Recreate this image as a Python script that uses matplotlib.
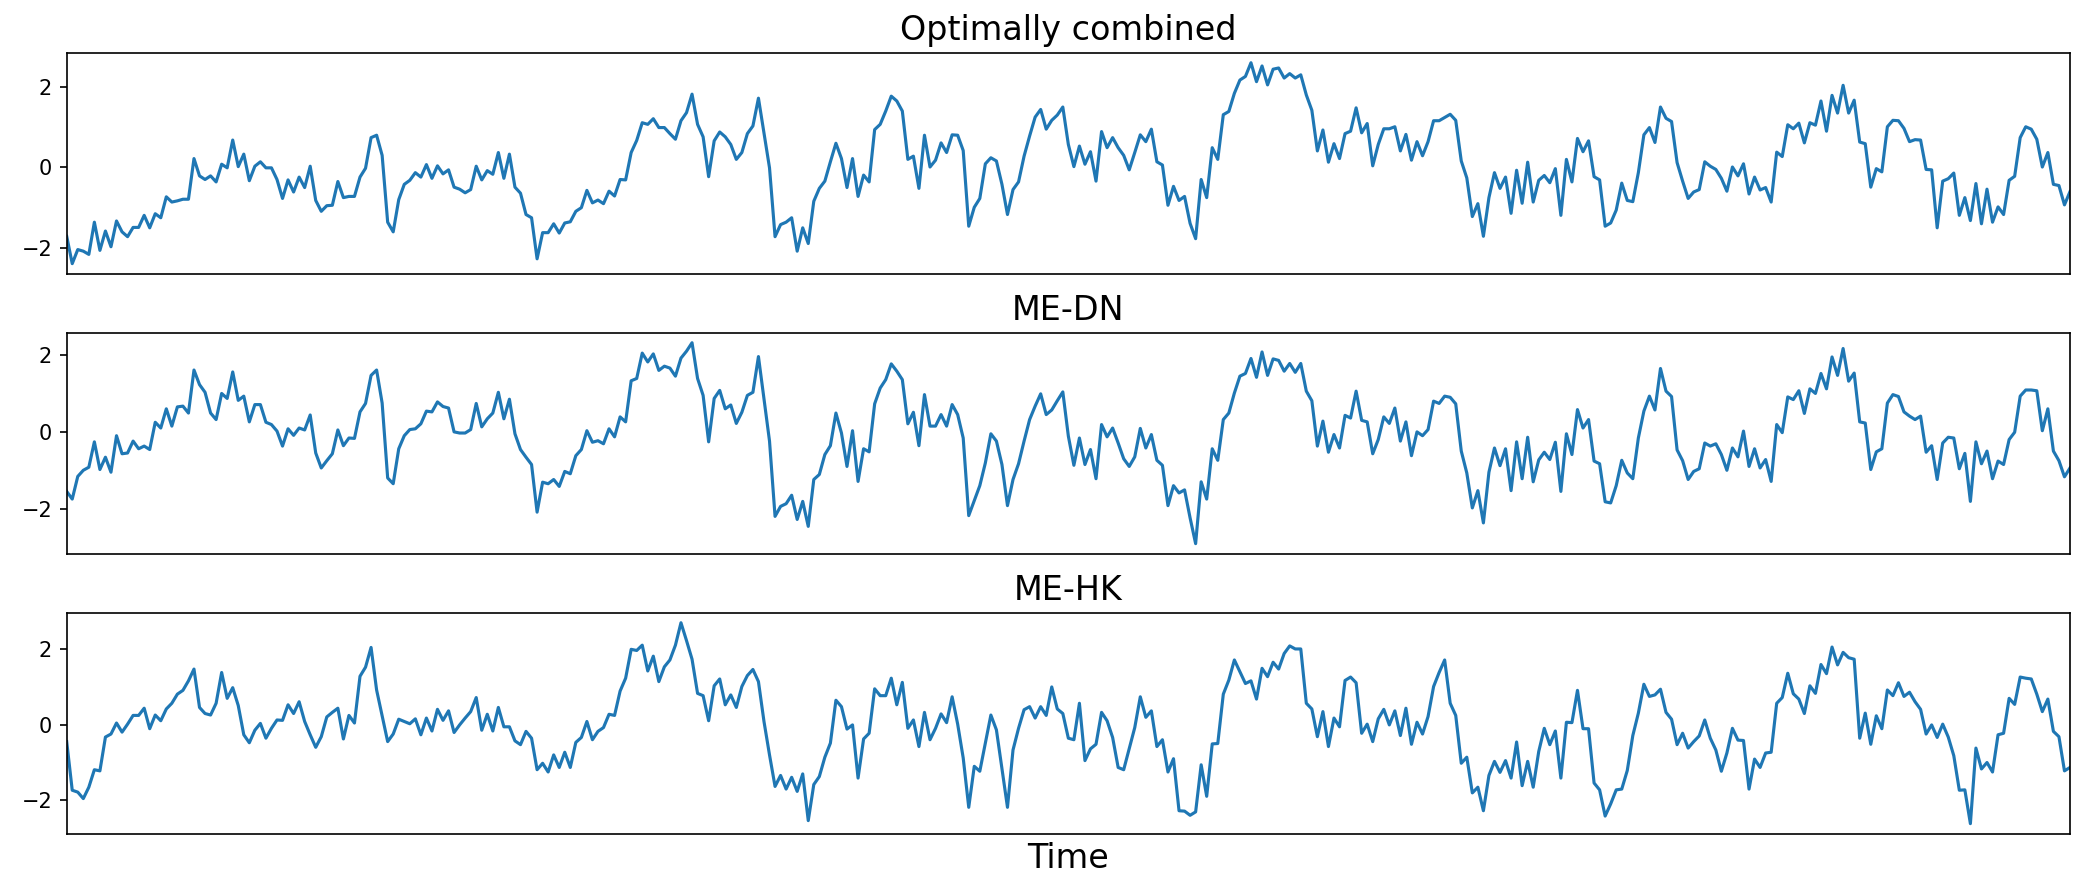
import numpy as np
import matplotlib
matplotlib.use("Agg")
import matplotlib.pyplot as plt

titles = ["Optimally combined", "ME-DN", "ME-HK"]
xlabel = "Time"

combined = [
-1.72,-2.40,-2.05,-2.09,-2.17,-1.37,-2.07,-1.59,-1.98,-1.34,-1.61,-1.73,-1.50,-1.50,-1.20,-1.51,-1.16,-1.26,-0.74,-0.87,
-0.84,-0.80,-0.80,0.21,-0.22,-0.31,-0.22,-0.37,0.07,-0.02,0.67,0.01,0.32,-0.34,0.02,0.13,-0.02,-0.02,-0.31,-0.78,
-0.32,-0.62,-0.25,-0.51,0.02,-0.83,-1.10,-0.96,-0.95,-0.36,-0.76,-0.73,-0.73,-0.25,-0.03,0.73,0.79,0.29,-1.37,-1.61,
-0.81,-0.43,-0.33,-0.14,-0.25,0.06,-0.28,0.03,-0.17,-0.07,-0.50,-0.55,-0.64,-0.56,0.02,-0.32,-0.09,-0.18,0.36,-0.28,
0.32,-0.50,-0.65,-1.18,-1.26,-2.28,-1.63,-1.63,-1.41,-1.64,-1.39,-1.36,-1.10,-1.01,-0.58,-0.89,-0.82,-0.91,-0.60,-0.72,
-0.31,-0.32,0.36,0.66,1.10,1.06,1.20,0.98,0.98,0.83,0.69,1.15,1.35,1.81,1.06,0.75,-0.24,0.65,0.87,0.75,
0.56,0.19,0.36,0.83,1.02,1.71,0.85,-0.02,-1.73,-1.43,-1.37,-1.26,-2.09,-1.51,-1.90,-0.85,-0.53,-0.35,0.13,0.59,
0.21,-0.51,0.21,-0.73,-0.20,-0.37,0.93,1.06,1.39,1.76,1.64,1.39,0.19,0.27,-0.53,0.79,0.00,0.17,0.60,0.36,
0.80,0.79,0.41,-1.47,-1.00,-0.78,0.08,0.23,0.15,-0.43,-1.18,-0.56,-0.37,0.27,0.77,1.24,1.43,0.94,1.16,1.29,
1.49,0.56,0.01,0.52,0.07,0.38,-0.35,0.88,0.48,0.73,0.48,0.29,-0.07,0.36,0.80,0.63,0.94,0.13,0.05,-0.95,
-0.48,-0.83,-0.73,-1.40,-1.78,-0.31,-0.76,0.48,0.19,1.30,1.38,1.83,2.16,2.25,2.59,2.12,2.51,2.04,2.43,2.46,
2.21,2.32,2.21,2.29,1.79,1.41,0.40,0.92,0.12,0.58,0.21,0.83,0.89,1.47,0.85,1.08,0.03,0.56,0.95,0.95,
1.00,0.40,0.81,0.17,0.63,0.28,0.63,1.15,1.15,1.23,1.31,1.16,0.15,-0.27,-1.23,-0.91,-1.72,-0.76,-0.14,-0.53,
-0.25,-1.15,-0.08,-0.90,0.12,-0.87,-0.33,-0.21,-0.39,-0.04,-1.20,0.19,-0.37,0.71,0.38,0.65,-0.24,-0.32,-1.47,-1.39,
-1.07,-0.40,-0.83,-0.86,-0.14,0.80,0.98,0.61,1.49,1.21,1.13,0.11,-0.35,-0.78,-0.62,-0.56,0.13,0.02,-0.06,-0.28,
-0.60,0.00,-0.22,0.08,-0.67,-0.25,-0.57,-0.51,-0.87,0.37,0.26,1.05,0.95,1.09,0.60,1.10,1.04,1.64,0.89,1.78,
1.34,2.03,1.34,1.66,0.62,0.58,-0.50,-0.04,-0.12,1.00,1.16,1.15,0.96,0.63,0.68,0.67,-0.06,-0.07,-1.51,-0.35,
-0.29,-0.15,-1.20,-0.76,-1.33,-0.41,-1.41,-0.55,-1.37,-0.99,-1.18,-0.33,-0.23,0.73,1.00,0.94,0.69,0.00,0.36,-0.43,
-0.46,-0.94,-0.61]

me_dn = [
-1.54,-1.74,-1.15,-0.99,-0.91,-0.25,-0.97,-0.65,-1.04,-0.09,-0.56,-0.54,-0.23,-0.43,-0.36,-0.45,0.26,0.11,0.61,0.16,
0.66,0.68,0.50,1.62,1.24,1.04,0.50,0.33,1.01,0.88,1.57,0.83,0.94,0.27,0.72,0.72,0.26,0.20,0.03,-0.36,
0.09,-0.08,0.11,0.06,0.45,-0.54,-0.93,-0.74,-0.56,0.06,-0.35,-0.15,-0.16,0.53,0.75,1.48,1.62,0.76,-1.19,-1.34,
-0.43,-0.09,0.07,0.09,0.22,0.55,0.53,0.79,0.67,0.63,0.01,-0.02,-0.02,0.07,0.75,0.14,0.35,0.50,1.04,0.35,
0.86,-0.04,-0.45,-0.65,-0.84,-2.08,-1.30,-1.34,-1.23,-1.41,-1.02,-1.08,-0.61,-0.45,0.04,-0.26,-0.22,-0.30,0.09,-0.12,
0.40,0.27,1.34,1.40,2.06,1.83,2.04,1.61,1.72,1.67,1.46,1.93,2.11,2.33,1.40,0.96,-0.25,0.88,1.09,0.61,
0.71,0.23,0.52,0.96,1.04,1.97,0.88,-0.23,-2.19,-1.93,-1.86,-1.64,-2.27,-1.80,-2.45,-1.23,-1.10,-0.58,-0.35,0.50,
-0.02,-0.89,0.04,-1.28,-0.43,-0.51,0.74,1.15,1.37,1.78,1.59,1.37,0.22,0.52,-0.35,0.98,0.16,0.16,0.46,0.16,
0.72,0.46,-0.15,-2.17,-1.78,-1.39,-0.80,-0.04,-0.23,-0.84,-1.91,-1.23,-0.82,-0.23,0.33,0.68,1.00,0.46,0.58,0.82,
1.05,-0.10,-0.86,-0.15,-0.84,-0.45,-1.21,0.20,-0.12,0.11,-0.28,-0.69,-0.89,-0.64,0.10,-0.41,-0.06,-0.73,-0.86,-1.91,
-1.39,-1.58,-1.50,-2.23,-2.90,-1.29,-1.74,-0.43,-0.73,0.33,0.50,1.02,1.46,1.53,1.92,1.43,2.09,1.48,1.91,1.87,
1.59,1.79,1.56,1.79,1.07,0.82,-0.36,0.29,-0.52,-0.06,-0.41,0.44,0.37,1.07,0.31,0.27,-0.56,-0.19,0.40,0.23,
0.63,-0.23,0.27,-0.61,0.01,-0.09,0.07,0.81,0.75,0.94,0.91,0.74,-0.49,-1.06,-1.97,-1.52,-2.36,-1.04,-0.41,-0.87,
-0.43,-1.52,-0.25,-1.21,-0.13,-1.29,-0.72,-0.52,-0.71,-0.26,-1.54,-0.04,-0.58,0.59,0.11,0.33,-0.75,-0.82,-1.81,-1.84,
-1.39,-0.73,-1.06,-1.21,-0.15,0.55,0.94,0.58,1.66,1.07,0.93,-0.46,-0.74,-1.23,-1.02,-0.95,-0.28,-0.36,-0.30,-0.58,
-0.99,-0.41,-0.64,0.03,-0.89,-0.43,-0.93,-0.71,-1.28,0.20,-0.01,0.92,0.85,1.08,0.49,1.13,1.01,1.53,1.13,1.96,
1.48,2.18,1.33,1.54,0.27,0.24,-0.97,-0.51,-0.43,0.76,0.98,0.93,0.53,0.42,0.33,0.42,-0.52,-0.35,-1.23,-0.28,
-0.13,-0.15,-0.95,-0.55,-1.80,-0.25,-0.82,-0.49,-1.21,-0.75,-0.84,-0.19,0.00,0.94,1.10,1.10,1.08,0.04,0.61,-0.49,
-0.74,-1.16,-0.93]

me_hk = [
-0.45,-1.73,-1.78,-1.95,-1.65,-1.19,-1.22,-0.33,-0.25,0.04,-0.20,0.01,0.24,0.24,0.43,-0.11,0.25,0.10,0.41,0.56,
0.80,0.90,1.15,1.46,0.45,0.29,0.25,0.56,1.37,0.69,0.97,0.50,-0.27,-0.48,-0.15,0.03,-0.36,-0.10,0.12,0.11,
0.52,0.29,0.60,0.08,-0.27,-0.60,-0.32,0.20,0.32,0.43,-0.38,0.24,0.04,1.27,1.51,2.03,0.91,0.23,-0.45,-0.25,
0.14,0.08,0.02,0.15,-0.27,0.17,-0.17,0.40,0.11,0.36,-0.21,-0.01,0.17,0.34,0.71,-0.15,0.27,-0.17,0.45,-0.06,
-0.06,-0.43,-0.53,-0.18,-0.36,-1.19,-1.02,-1.25,-0.80,-1.13,-0.73,-1.13,-0.47,-0.34,0.08,-0.40,-0.18,-0.08,0.27,0.24,
0.88,1.22,1.98,1.95,2.09,1.41,1.80,1.13,1.52,1.70,2.09,2.68,2.21,1.72,0.82,0.76,0.10,1.02,1.20,0.52,
0.78,0.45,1.00,1.29,1.45,1.13,0.08,-0.80,-1.63,-1.34,-1.70,-1.39,-1.76,-1.30,-2.53,-1.58,-1.37,-0.86,-0.49,0.64,
0.47,-0.12,-0.01,-1.41,-0.38,-0.23,0.94,0.76,0.76,1.22,0.52,1.11,-0.10,0.12,-0.58,0.32,-0.40,-0.10,0.28,0.05,
0.73,0.01,-0.88,-2.18,-1.10,-1.23,-0.49,0.25,-0.14,-1.15,-2.18,-0.67,-0.10,0.39,0.47,0.17,0.47,0.24,0.99,0.41,
0.29,-0.36,-0.40,0.56,-0.95,-0.64,-0.52,0.32,0.10,-0.34,-1.13,-1.19,-0.64,-0.08,0.73,0.19,0.36,-0.58,-0.40,-1.25,
-0.90,-2.27,-2.28,-2.39,-2.30,-1.06,-1.89,-0.51,-0.50,0.80,1.17,1.70,1.39,1.08,1.15,0.67,1.48,1.26,1.64,1.46,
1.87,2.07,1.99,1.99,0.56,0.41,-0.32,0.34,-0.58,0.17,-0.06,1.16,1.25,1.10,-0.23,0.01,-0.45,0.15,0.40,-0.01,
0.36,-0.29,0.43,-0.52,0.06,-0.25,0.21,1.00,1.37,1.70,0.56,0.24,-1.02,-0.86,-1.80,-1.65,-2.27,-1.34,-0.97,-1.26,
-0.95,-1.41,-0.46,-1.61,-0.97,-1.65,-0.71,-0.10,-0.53,-0.17,-1.41,0.06,0.05,0.90,-0.11,-0.11,-1.54,-1.72,-2.41,-2.09,
-1.72,-1.70,-1.21,-0.29,0.30,1.06,0.74,0.78,0.93,0.32,0.14,-0.53,-0.23,-0.62,-0.45,-0.30,0.12,-0.36,-0.67,-1.23,
-0.75,-0.10,-0.41,-0.42,-1.70,-0.91,-1.13,-0.75,-0.73,0.56,0.71,1.35,0.81,0.67,0.29,1.02,0.82,1.58,1.34,2.04,
1.57,1.90,1.76,1.72,-0.36,0.30,-0.52,0.23,-0.11,0.91,0.76,1.10,0.74,0.85,0.60,0.40,-0.25,-0.01,-0.34,0.01,
-0.33,-0.82,-1.73,-1.72,-2.61,-0.62,-1.17,-1.00,-1.25,-0.27,-0.23,0.69,0.53,1.25,1.22,1.20,0.80,0.34,0.67,-0.18,
-0.32,-1.22,-1.13]

series = [combined, me_dn, me_hk]
time = np.arange(len(combined))

W, H = 2085, 890
DPI = 150
fig = plt.figure(figsize=(W / DPI, H / DPI), dpi=DPI)
left = 66.7 / W
width = 2003.3 / W
tops = [52.7, 332.7, 612.7]
ax_h = 221.0
color = "#1f77b4"
for k, (ttl, vals) in enumerate(zip(titles, series)):
    bottom = 1 - (tops[k] + ax_h) / H
    ax = fig.add_axes([left, bottom, width, ax_h / H])
    ax.plot(time, vals, color=color, linewidth=1.5)
    ax.set_xlim(time[0], time[-1])
    ax.set_xticks([])
    ax.set_yticks([-2, 0, 2])
    ax.tick_params(axis="y", labelsize=10)
    ax.set_title(ttl, fontsize=16)
    if k == 2:
        ax.set_xlabel(xlabel, fontsize=16)

fig.savefig("out.png", dpi=DPI)
